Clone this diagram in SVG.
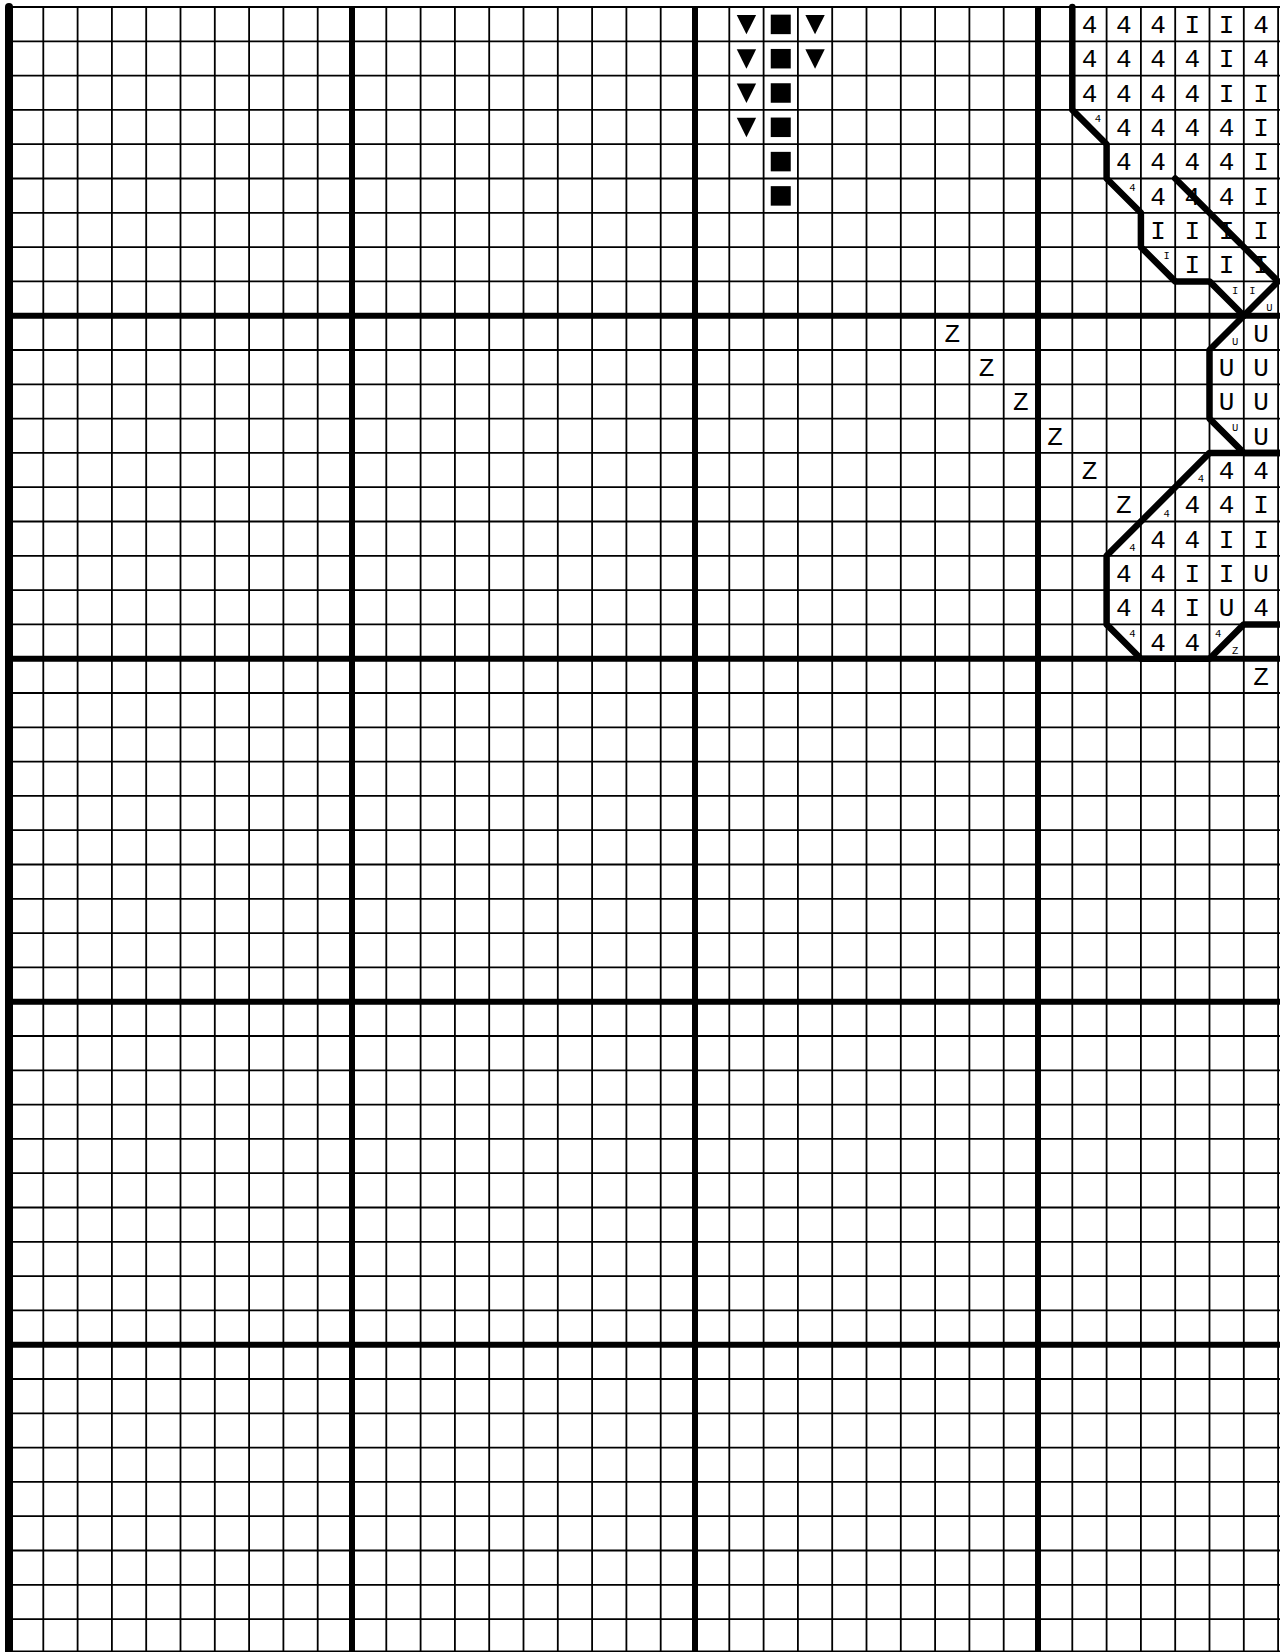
<svg xmlns="http://www.w3.org/2000/svg" xmlns:xlink="http://www.w3.org/1999/xlink" width="1280" height="1652" viewBox="0 0 1280 1652">
<style>
.thin{fill:none;stroke:#000;stroke-width:1.8}
.thick{fill:none;stroke:#000;stroke-width:6}
.edge{fill:none;stroke:#000;stroke-width:8;stroke-linecap:round}
.out{fill:none;stroke:#000;stroke-width:6.5;stroke-linecap:round;stroke-linejoin:round}
.b{font-family:"Liberation Mono","DejaVu Sans Mono",monospace;font-size:26px;text-anchor:middle;fill:#000}
.s{font-family:"Liberation Mono","DejaVu Sans Mono",monospace;font-size:10.5px;text-anchor:middle;fill:#000}
</style>
<defs>
<path id="tri" d="M-9.7,-9.2 L9.7,-9.2 L0,10.2 Z" fill="#000"/>
<rect id="sq" x="-10" y="-9.5" width="20" height="19.5" fill="#000"/>
</defs>
<rect width="1280" height="1652" fill="#fff"/>
<g id="grid">
<path class="thin" d="M43.3 7V1652M77.6 7V1652M111.9 7V1652M146.2 7V1652M180.5 7V1652M214.8 7V1652M249.1 7V1652M283.4 7V1652M317.7 7V1652M386.3 7V1652M420.6 7V1652M454.9 7V1652M489.2 7V1652M523.5 7V1652M557.8 7V1652M592.1 7V1652M626.4 7V1652M660.7 7V1652M729.3 7V1652M763.6 7V1652M797.9 7V1652M832.2 7V1652M866.5 7V1652M900.8 7V1652M935.1 7V1652M969.4 7V1652M1003.7 7V1652M1072.3 7V1652M1106.6 7V1652M1140.9 7V1652M1175.2 7V1652M1209.5 7V1652M1243.8 7V1652M1278.1 7V1652
M9 7H1280M9 41.3H1280M9 75.6H1280M9 109.9H1280M9 144.2H1280M9 178.5H1280M9 212.8H1280M9 247.1H1280M9 281.4H1280M9 350H1280M9 384.3H1280M9 418.6H1280M9 452.9H1280M9 487.2H1280M9 521.5H1280M9 555.8H1280M9 590.1H1280M9 624.4H1280M9 693H1280M9 727.3H1280M9 761.6H1280M9 795.9H1280M9 830.2H1280M9 864.5H1280M9 898.8H1280M9 933.1H1280M9 967.4H1280M9 1036H1280M9 1070.3H1280M9 1104.6H1280M9 1138.9H1280M9 1173.2H1280M9 1207.5H1280M9 1241.8H1280M9 1276.1H1280M9 1310.4H1280M9 1379H1280M9 1413.3H1280M9 1447.6H1280M9 1481.9H1280M9 1516.2H1280M9 1550.5H1280M9 1584.8H1280M9 1619.1H1280"/>
<path class="thick" d="M352 7V1652M695 7V1652M1038 7V1652M9 315.7H1280M9 658.7H1280M9 1001.7H1280M9 1344.7H1280M9 1653.4H1280"/>
<path class="edge" d="M9 7V1660"/>
</g>
<g id="marks">
<use xlink:href="#tri" x="746.45" y="24.15"/>
<use xlink:href="#tri" x="746.45" y="58.45"/>
<use xlink:href="#tri" x="746.45" y="92.75"/>
<use xlink:href="#tri" x="746.45" y="127.05"/>
<use xlink:href="#sq" x="780.75" y="24.15"/>
<use xlink:href="#sq" x="780.75" y="58.45"/>
<use xlink:href="#sq" x="780.75" y="92.75"/>
<use xlink:href="#sq" x="780.75" y="127.05"/>
<use xlink:href="#sq" x="780.75" y="161.35"/>
<use xlink:href="#sq" x="780.75" y="195.65"/>
<use xlink:href="#tri" x="815.05" y="24.15"/>
<use xlink:href="#tri" x="815.05" y="58.45"/>
</g>
<g id="symbols">
<text class="b" x="1089.45" y="33.15">4</text><text class="b" x="1123.75" y="33.15">4</text><text class="b" x="1158.05" y="33.15">4</text><text class="b" x="1192.35" y="33.15">I</text><text class="b" x="1226.65" y="33.15">I</text><text class="b" x="1260.95" y="33.15">4</text>
<text class="b" x="1089.45" y="67.45">4</text><text class="b" x="1123.75" y="67.45">4</text><text class="b" x="1158.05" y="67.45">4</text><text class="b" x="1192.35" y="67.45">4</text><text class="b" x="1226.65" y="67.45">I</text><text class="b" x="1260.95" y="67.45">4</text>
<text class="b" x="1089.45" y="101.75">4</text><text class="b" x="1123.75" y="101.75">4</text><text class="b" x="1158.05" y="101.75">4</text><text class="b" x="1192.35" y="101.75">4</text><text class="b" x="1226.65" y="101.75">I</text><text class="b" x="1260.95" y="101.75">I</text>
<text class="b" x="1123.75" y="136.05">4</text><text class="b" x="1158.05" y="136.05">4</text><text class="b" x="1192.35" y="136.05">4</text><text class="b" x="1226.65" y="136.05">4</text><text class="b" x="1260.95" y="136.05">I</text>
<text class="b" x="1123.75" y="170.35">4</text><text class="b" x="1158.05" y="170.35">4</text><text class="b" x="1192.35" y="170.35">4</text><text class="b" x="1226.65" y="170.35">4</text><text class="b" x="1260.95" y="170.35">I</text>
<text class="b" x="1158.05" y="204.65">4</text><text class="b" x="1192.35" y="204.65">4</text><text class="b" x="1226.65" y="204.65">4</text><text class="b" x="1260.95" y="204.65">I</text>
<text class="b" x="1158.05" y="238.95">I</text><text class="b" x="1192.35" y="238.95">I</text><text class="b" x="1226.65" y="238.95">I</text><text class="b" x="1260.95" y="238.95">I</text>
<text class="b" x="1192.35" y="273.25">I</text><text class="b" x="1226.65" y="273.25">I</text><text class="b" x="1260.95" y="273.25">I</text>
<text class="b" x="952.25" y="341.85">Z</text><text class="b" x="1260.95" y="341.85">U</text>
<text class="b" x="986.55" y="376.15">Z</text><text class="b" x="1226.65" y="376.15">U</text><text class="b" x="1260.95" y="376.15">U</text>
<text class="b" x="1020.85" y="410.45">Z</text><text class="b" x="1226.65" y="410.45">U</text><text class="b" x="1260.95" y="410.45">U</text>
<text class="b" x="1055.15" y="444.75">Z</text><text class="b" x="1260.95" y="444.75">U</text>
<text class="b" x="1089.45" y="479.05">Z</text><text class="b" x="1226.65" y="479.05">4</text><text class="b" x="1260.95" y="479.05">4</text>
<text class="b" x="1123.75" y="513.35">Z</text><text class="b" x="1192.35" y="513.35">4</text><text class="b" x="1226.65" y="513.35">4</text><text class="b" x="1260.95" y="513.35">I</text>
<text class="b" x="1158.05" y="547.65">4</text><text class="b" x="1192.35" y="547.65">4</text><text class="b" x="1226.65" y="547.65">I</text><text class="b" x="1260.95" y="547.65">I</text>
<text class="b" x="1123.75" y="581.95">4</text><text class="b" x="1158.05" y="581.95">4</text><text class="b" x="1192.35" y="581.95">I</text><text class="b" x="1226.65" y="581.95">I</text><text class="b" x="1260.95" y="581.95">U</text>
<text class="b" x="1123.75" y="616.25">4</text><text class="b" x="1158.05" y="616.25">4</text><text class="b" x="1192.35" y="616.25">I</text><text class="b" x="1226.65" y="616.25">U</text><text class="b" x="1260.95" y="616.25">4</text>
<text class="b" x="1158.05" y="650.55">4</text><text class="b" x="1192.35" y="650.55">4</text>
<text class="b" x="1260.95" y="684.85">Z</text>
<text class="s" x="1098" y="122.1">4</text>
<text class="s" x="1132.3" y="190.7">4</text>
<text class="s" x="1166.6" y="259.3">I</text>
<text class="s" x="1235.2" y="293.6">I</text>
<text class="s" x="1252.4" y="293.6">I</text>
<text class="s" x="1269.5" y="310.7">U</text>
<text class="s" x="1235.2" y="345">U</text>
<text class="s" x="1235.2" y="430.8">U</text>
<text class="s" x="1200.9" y="482.2">4</text>
<text class="s" x="1166.6" y="516.5">4</text>
<text class="s" x="1132.3" y="550.8">4</text>
<text class="s" x="1132.3" y="636.6">4</text>
<text class="s" x="1218.1" y="636.6">4</text>
<text class="s" x="1235.2" y="653.7">Z</text>
</g>
<g id="outlines">
<path class="out" d="M1072.3 7L1072.3 109.9L1106.6 144.2L1106.6 178.5L1140.9 212.8L1140.9 247.1L1175.2 281.4L1209.5 281.4L1243.8 315.7L1209.5 350L1209.5 418.6L1243.8 452.9L1280 452.9"/>
<path class="out" d="M1175.2 178.5L1278.1 281.4L1243.8 315.7"/>
<path class="out" d="M1280 452.9L1209.5 452.9L1106.6 555.8L1106.6 624.4L1140.9 658.7L1209.5 658.7L1243.8 624.4L1280 624.4"/>
</g>
</svg>
